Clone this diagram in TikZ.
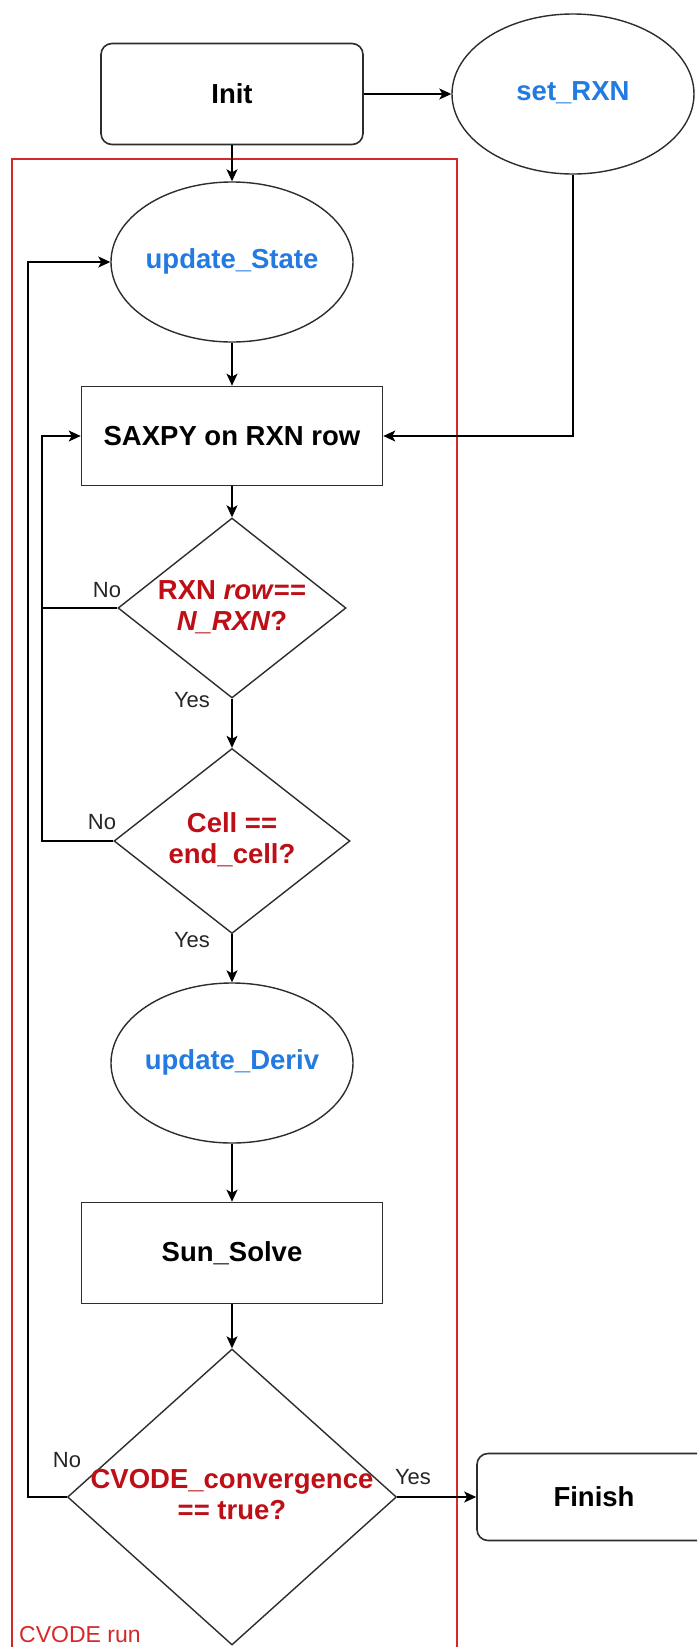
\documentclass[tikz,border=0pt]{standalone}
\usepackage{fontspec}
\setmainfont{Liberation Sans}
\usetikzlibrary{shapes.geometric,arrows.meta}

\definecolor{fnblue}{RGB}{35,122,224}
\definecolor{condred}{RGB}{190,14,22}
\definecolor{framered}{RGB}{214,40,40}
\definecolor{edgegrey}{RGB}{45,45,45}

% text of zero size, so that the shape keeps its own minimum size
\newcommand{\zbox}[1]{\makebox[0pt]{\raisebox{-0.25em}[0pt][0pt]{\begin{tabular}{@{}c@{}}#1\end{tabular}}}}

\begin{document}
\begin{tikzpicture}[x=1pt,y=-1pt,
  every node/.style={font=\fontsize{27.5}{31}\selectfont\bfseries, inner sep=0pt},
  procbox/.style={draw=edgegrey, line width=1.6pt, rectangle, minimum width=301pt, minimum height=99pt},
  termbox/.style={draw=edgegrey, line width=1.6pt, rectangle, rounded corners=11pt, minimum width=262pt, minimum height=101pt},
  funcell/.style={draw=edgegrey, line width=1.4pt, ellipse, minimum width=242pt, minimum height=160pt, text=fnblue},
  decision/.style={draw=edgegrey, line width=1.4pt, diamond, text=condred},
  flow/.style={draw=black, line width=1.4pt, -{Stealth[length=12pt,width=11pt,inset=3pt]}},
  link/.style={draw=black, line width=1.4pt},
  branch/.style={font=\fontsize{22}{26}\selectfont, text=black!85},
]
\useasboundingbox (0,0) rectangle (697,1647);
\fill[white] (0,0) rectangle (697,1647);
\clip (0,0) rectangle (697,1647);

% CVODE run frame
\draw[framered, line width=1.4pt] (12,1665) |- (457,159) -- (457,1665);
\node[font=\fontsize{23}{27}\selectfont, text=framered, anchor=base west] (runlbl) at (19,1642) {CVODE run};

% blocks
\node[termbox] (init) at (232,94) {Init};
\node[funcell] (setrxn) at (573,94) {\zbox{set\_RXN}};
\node[funcell] (ustate) at (232,262) {\zbox{update\_State}};
\node[procbox] (saxpy) at (232,436) {SAXPY on RXN row};
\node[decision, minimum width=228pt, minimum height=180pt] (rowchk) at (232,608)
  {\zbox{RXN \textit{row}==\\\textit{N\_RXN}?}};
\node[decision, minimum width=236pt, minimum height=185pt] (cellchk) at (232,841)
  {\zbox{Cell ==\\end\_cell?}};
\node[funcell] (uderiv) at (232,1063) {\zbox{update\_Deriv}};
\node[procbox, minimum height=101pt] (solve) at (232,1253) {Sun\_Solve};
\node[decision, minimum width=329pt, minimum height=296pt] (convchk) at (232,1497)
  {\zbox{CVODE\_convergence\\== true?}};
\node[termbox, minimum width=234pt, minimum height=87pt] (finish) at (594,1497) {Finish};

% loop corners
\coordinate (inner) at (42,608);
\coordinate (outer) at (28,1497);

% connectors
\draw[flow] (init.south) -- (ustate.north);
\draw[flow] (init.east) -- (setrxn.west);
\draw[flow] (ustate.south) -- (saxpy.north);
\draw[flow] (setrxn.south) |- (saxpy.east);
\draw[flow] (saxpy.south) -- (rowchk.north);
\draw[flow] (rowchk.west) -- (inner) |- (saxpy.west);
\draw[flow] (rowchk.south) -- (cellchk.north);
\draw[link] (cellchk.west) -| (inner);
\draw[flow] (cellchk.south) -- (uderiv.north);
\draw[flow] (uderiv.south) -- (solve.north);
\draw[flow] (solve.south) -- (convchk.north);
\draw[flow] (convchk.west) -- (outer) |- (ustate.west);
\draw[flow] (convchk.east) -- (finish.west);

% branch labels
\node[branch] (no1) at (107,590) {No};
\node[branch] (yes1) at (192,700) {Yes};
\node[branch] (no2) at (102,822) {No};
\node[branch] (yes2) at (192,940) {Yes};
\node[branch] (no3) at (67,1460) {No};
\node[branch] (yes3) at (413,1477) {Yes};
\end{tikzpicture}
\end{document}
